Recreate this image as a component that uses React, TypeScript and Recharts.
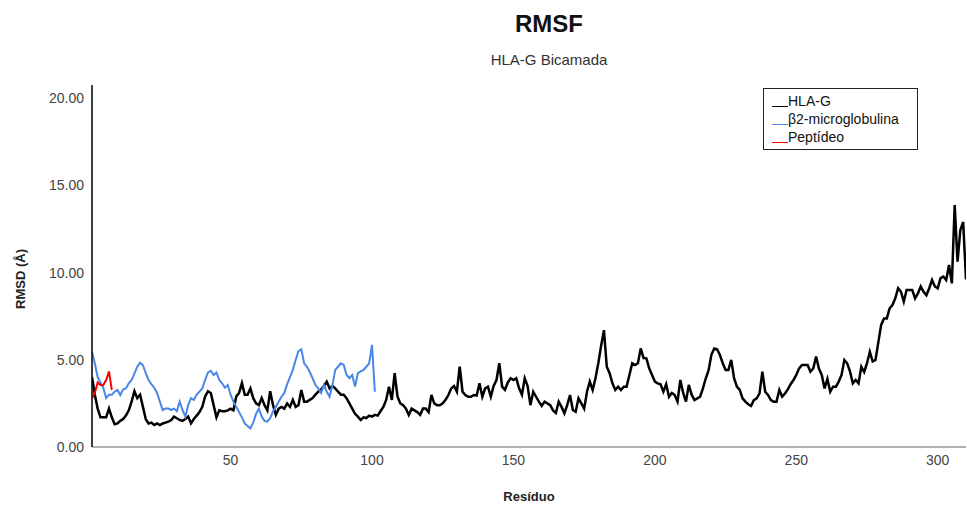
import { Line, LineChart, XAxis, YAxis } from "recharts";

const FONT = '"Liberation Sans", Arial, sans-serif';

// RMSF per residue (Å)
const hlaG = [
  4.0, 3.0, 2.2, 1.7, 1.7, 1.7, 2.2, 1.7, 1.3, 1.35,
  1.5, 1.6, 1.8, 2.1, 2.6, 3.2, 2.8, 3.0, 2.3, 1.6,
  1.35, 1.4, 1.26, 1.35, 1.26, 1.35, 1.4, 1.45, 1.55, 1.74,
  1.65, 1.55, 1.5, 1.6, 1.74, 1.35, 1.6, 1.8, 2.0, 2.3,
  2.9, 3.2, 3.1, 2.4, 1.7, 2.1, 2.05, 2.05, 2.1, 2.2,
  2.1, 2.9, 3.1, 3.66, 3.0, 3.0, 3.36, 2.8, 2.5, 2.4,
  2.8, 2.4, 2.1, 3.2, 2.4, 1.84, 2.2, 2.3, 2.2, 2.5,
  2.3, 2.7, 2.3, 2.4, 3.27, 2.6, 2.6, 2.7, 2.8, 3.0,
  3.17, 3.3, 3.5, 3.75, 3.36, 3.5, 3.36, 3.17, 3.0, 3.0,
  2.8, 2.5, 2.2, 1.9, 1.74, 1.55, 1.7, 1.66, 1.8, 1.74,
  1.84, 1.8, 2.05, 2.3, 2.7, 3.46, 2.7, 4.23, 2.9, 2.5,
  2.4, 2.2, 1.84, 2.2, 2.1, 2.0, 1.84, 2.2, 2.2, 2.0,
  2.98, 2.5, 2.4, 2.4, 2.5, 2.7, 2.98, 3.36, 3.5, 3.17,
  4.6, 3.17, 2.98, 2.88, 2.88, 2.98, 2.95, 3.65, 2.88, 3.36,
  3.46, 2.88, 3.5, 3.84, 4.8, 3.46, 3.27, 3.7, 3.94, 3.84,
  3.94, 3.36, 3.0, 3.94, 3.5, 2.4, 3.17, 2.88, 2.6, 2.35,
  2.6, 2.5, 2.4, 2.1, 1.95, 2.6, 2.3, 1.93, 2.4, 2.98,
  2.12, 2.02, 2.79, 2.5, 2.2, 3.17, 3.75, 3.27, 3.94, 4.8,
  5.8, 6.7, 4.6, 4.23, 3.65, 3.27, 3.46, 3.27, 3.46, 3.46,
  4.13, 4.8, 4.7, 4.8, 5.65, 5.1, 5.08, 4.51, 4.13, 3.75,
  3.65, 3.6, 3.17, 3.6, 2.88, 3.1, 2.98, 2.6, 3.84, 3.1,
  2.6, 3.56, 3.0, 2.69, 2.79, 2.88, 3.36, 3.94, 4.4, 5.3,
  5.65, 5.6, 5.27, 4.8, 4.42, 4.42, 4.99, 3.94, 3.46, 3.27,
  2.79, 2.6, 2.45, 2.35, 2.69, 2.79, 3.07, 4.32, 3.17, 2.98,
  2.69, 2.6, 2.6, 3.27, 2.88, 3.07, 3.3, 3.6, 3.84, 4.13,
  4.51, 4.7, 4.7, 4.7, 4.32, 4.5, 5.18, 4.5, 4.13, 3.36,
  3.9, 3.17, 3.46, 3.46, 3.75, 4.13, 4.99, 4.8, 4.32, 3.65,
  3.84, 3.65, 4.6, 4.3, 4.8, 5.46, 4.9, 4.99, 6.0, 7.0,
  7.37, 7.37, 7.95, 8.14, 8.52, 9.1, 8.9, 8.33, 9.0, 9.0,
  9.0, 8.52, 8.8, 9.2, 8.9, 8.7, 9.1, 9.57, 9.2, 9.1,
  9.68, 9.77, 9.57, 10.43, 9.38, 13.87, 10.62, 12.43, 12.9, 9.6,
];

const b2m = [
  5.46, 4.8, 4.0, 3.7, 3.4, 2.8, 3.0, 3.0, 3.17, 3.27,
  2.98, 3.3, 3.36, 3.65, 3.84, 4.2, 4.6, 4.83, 4.7, 4.23,
  3.84, 3.6, 3.4, 3.1, 2.6, 2.12, 2.2, 2.2, 2.12, 2.2,
  2.05, 2.6, 2.12, 1.74, 2.4, 2.8, 2.7, 3.0, 3.17, 3.36,
  3.84, 4.27, 4.37, 4.13, 4.27, 3.84, 3.65, 3.4, 3.55, 3.0,
  2.6, 2.3, 2.0, 1.7, 1.35, 1.2, 1.07, 1.4, 1.9, 2.2,
  1.74, 1.5, 1.45, 1.66, 2.05, 2.3, 2.6, 2.88, 3.1, 3.6,
  4.0, 4.42, 4.99, 5.5, 5.6, 4.8, 4.6, 4.3, 3.94, 3.55,
  3.36, 3.1, 3.55, 3.17, 2.88, 3.55, 4.42, 4.6, 4.8, 4.7,
  4.13, 3.94, 4.13, 3.46, 4.23, 4.33, 4.42, 4.6, 4.8, 5.85,
  3.17,
];

const peptide = [2.8, 3.1, 3.7, 3.55, 3.55, 3.84, 4.33, 3.27];

const xTicks = [50, 100, 150, 200, 250, 300];
const yTicks = [0, 5, 10, 15, 20];

const SERIES = [
  { key: "hla", name: "HLA-G", color: "#000000", width: 2.5 },
  { key: "b2m", name: "β2-microglobulina", color: "#4a86e8", width: 2 },
  { key: "pep", name: "Peptídeo", color: "#ff0000", width: 2 },
];

const rows = hlaG.map((v, i) => ({
  res: i + 1,
  hla: v,
  b2m: i < b2m.length ? b2m[i] : undefined,
  pep: i < peptide.length ? peptide[i] : undefined,
}));

function LegendBox() {
  return (
    <div
      style={{
        position: "absolute",
        left: 763,
        top: 88,
        border: "1px solid #222",
        width: 155,
        height: 62,
        boxSizing: "border-box",
        padding: "3px 0 0 8px",
        fontFamily: FONT,
        fontSize: 14,
        color: "#111",
        background: "#fff",
      }}
    >
      {SERIES.map((s) => (
        <div key={s.key} style={{ display: "flex", alignItems: "flex-end", height: 18 }}>
          <span
            style={{
              display: "inline-block",
              width: 16,
              height: 0,
              borderBottom: `1px solid ${s.color}`,
              marginBottom: 3,
            }}
          />
          <span style={{ lineHeight: "18px" }}>{s.name}</span>
        </div>
      ))}
    </div>
  );
}

export default function App() {
  return (
    <div
      style={{
        position: "absolute",
        left: 0,
        top: 0,
        width: 967,
        height: 507,
        background: "#fff",
        fontFamily: FONT,
      }}
    >
      <LineChart
        width={967}
        height={507}
        data={rows}
        margin={{ top: 85, right: 1, bottom: 0, left: 0 }}
      >
        <XAxis
          dataKey="res"
          type="number"
          domain={[1, 310]}
          ticks={xTicks}
          tickLine={false}
          axisLine={{ stroke: "#999", strokeWidth: 1.5 }}
          tick={{ fontSize: 14, fill: "#444", fontFamily: FONT }}
          tickMargin={2}
          height={60}
          allowDataOverflow
        />
        <YAxis
          type="number"
          domain={[0, 20.75]}
          ticks={yTicks}
          tickFormatter={(v: number) => v.toFixed(2)}
          tickLine={false}
          axisLine={{ stroke: "#000", strokeWidth: 1.5 }}
          tick={{ fontSize: 14, fill: "#444", fontFamily: FONT }}
          width={92}
          allowDataOverflow
        />
        {SERIES.map((s) => (
          <Line
            key={s.key}
            type="linear"
            dataKey={s.key}
            name={s.name}
            stroke={s.color}
            strokeWidth={s.width}
            dot={false}
            activeDot={false}
            isAnimationActive={false}
          />
        ))}
      </LineChart>
      <div
        style={{
          position: "absolute",
          left: 449,
          width: 200,
          top: 10,
          textAlign: "center",
          fontWeight: "bold",
          fontSize: 24,
          color: "#111",
        }}
      >
        RMSF
      </div>
      <div
        style={{
          position: "absolute",
          left: 399,
          width: 300,
          top: 51,
          textAlign: "center",
          fontSize: 15,
          color: "#333",
        }}
      >
        HLA-G Bicamada
      </div>
      <div
        style={{
          position: "absolute",
          left: 20,
          top: 279,
          transform: "translate(-50%, -50%) rotate(-90deg)",
          fontWeight: "bold",
          fontSize: 13,
          color: "#222",
          whiteSpace: "nowrap",
        }}
      >
        RMSD (Å)
      </div>
      <div
        style={{
          position: "absolute",
          left: 429,
          width: 200,
          top: 489,
          textAlign: "center",
          fontWeight: "bold",
          fontSize: 13,
          color: "#222",
        }}
      >
        Resíduo
      </div>
      <LegendBox />
    </div>
  );
}
